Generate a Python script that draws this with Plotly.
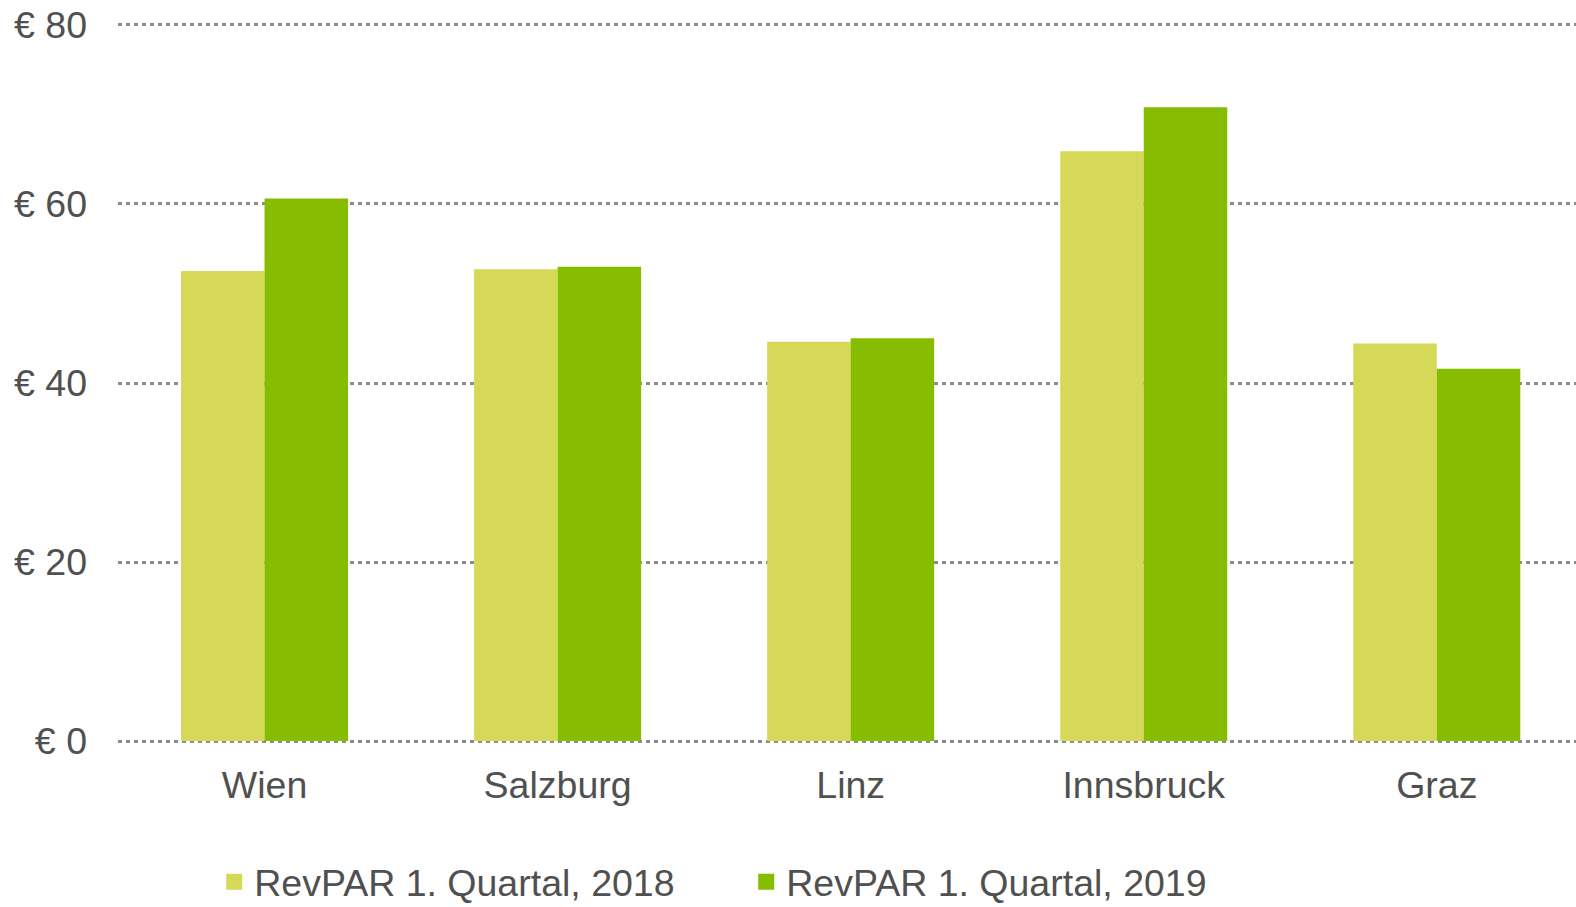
import plotly.graph_objects as go

cities = ["Wien", "Salzburg", "Linz", "Innsbruck", "Graz"]
rev_2018 = [52.5, 52.7, 44.6, 65.9, 44.4]
rev_2019 = [60.6, 53.0, 45.0, 70.8, 41.6]
names = ["RevPAR 1. Quartal, 2018", "RevPAR 1. Quartal, 2019"]
tick_vals = [0, 20, 40, 60, 80]
tick_text = ["€ 0", "€ 20", "€ 40", "€ 60", "€ 80"]

c18 = "#D6D858"
c19 = "#86BD00"
txt = "#505050"
font = "Liberation Sans, Arial, sans-serif"
fs = 37.5

fig = go.Figure()
fig.add_trace(go.Bar(x=cities, y=rev_2018, marker=dict(color=c18, line=dict(width=0)),
                     showlegend=False, name=names[0]))
fig.add_trace(go.Bar(x=cities, y=rev_2019, marker=dict(color=c19, line=dict(width=0)),
                     showlegend=False, name=names[1]))
for n, c in zip(names, [c18, c19]):
    fig.add_trace(go.Scatter(x=[None], y=[None], mode="markers", name=n,
                             marker=dict(symbol="square", size=19, color=c)))

fig.update_layout(
    width=1576, height=907,
    margin=dict(l=118, r=0, t=22, b=163, autoexpand=False),
    paper_bgcolor="white", plot_bgcolor="white",
    barmode="group", bargap=0.43, bargroupgap=0,
    font=dict(family=font, size=fs, color=txt),
    legend=dict(orientation="h", x=0.066, xanchor="left", y=-0.191, yanchor="middle",
                font=dict(size=fs, color=txt), entrywidth=487, itemsizing="trace"),
    xaxis=dict(range=[-0.5, 4.475], showgrid=False, zeroline=False, showline=False,
               ticks="", ticklabelstandoff=15, tickfont=dict(size=fs, color=txt)),
    yaxis=dict(range=[-0.33, 80.33], tickvals=tick_vals, ticktext=tick_text,
               showgrid=True, gridcolor="#8C8C8C", gridwidth=3, griddash="4px,4px",
               zeroline=False, showline=False, ticks="", ticklabelstandoff=30,
               tickfont=dict(size=fs, color=txt)),
)

fig.write_html("out.html", config={"displayModeBar": False},
               post_script="document.body.style.margin='0';")
